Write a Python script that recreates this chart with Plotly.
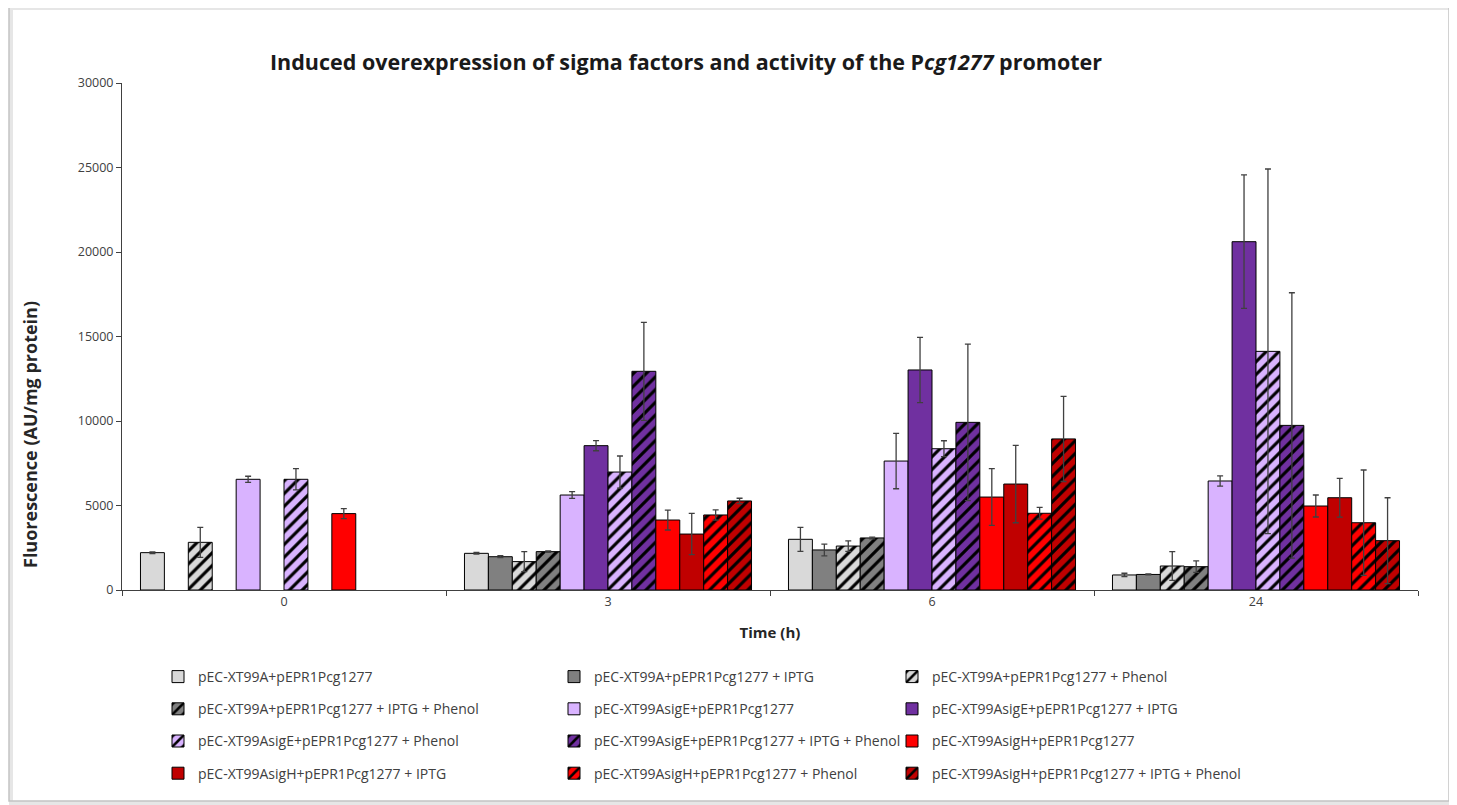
import plotly.graph_objects as go

times = ["0", "3", "6", "24"]

names = [
    "pEC-XT99A+pEPR1Pcg1277",
    "pEC-XT99A+pEPR1Pcg1277 + IPTG",
    "pEC-XT99A+pEPR1Pcg1277 + Phenol",
    "pEC-XT99A+pEPR1Pcg1277 + IPTG + Phenol",
    "pEC-XT99AsigE+pEPR1Pcg1277",
    "pEC-XT99AsigE+pEPR1Pcg1277 + IPTG",
    "pEC-XT99AsigE+pEPR1Pcg1277 + Phenol",
    "pEC-XT99AsigE+pEPR1Pcg1277 + IPTG + Phenol",
    "pEC-XT99AsigH+pEPR1Pcg1277",
    "pEC-XT99AsigH+pEPR1Pcg1277 + IPTG",
    "pEC-XT99AsigH+pEPR1Pcg1277 + Phenol",
    "pEC-XT99AsigH+pEPR1Pcg1277 + IPTG + Phenol",
]

a_ctrl = [2210, 2170, 3000, 890]
a_iptg = [None, 1970, 2370, 920]
a_phen = [2820, 1680, 2600, 1420]
a_both = [None, 2270, 3080, 1380]
e_ctrl = [6550, 5620, 7630, 6450]
e_iptg = [None, 8540, 13020, 20610]
e_phen = [6550, 6980, 8360, 14120]
e_both = [None, 12940, 9920, 9740]
h_ctrl = [4520, 4140, 5500, 4970]
h_iptg = [None, 3310, 6270, 5460]
h_phen = [None, 4440, 4540, 3980]
h_both = [None, 5270, 8940, 2920]

err_a_ctrl = [50, 50, 710, 100]
err_a_iptg = [0, 60, 350, 30]
err_a_phen = [890, 590, 310, 850]
err_a_both = [0, 40, 50, 340]
err_e_ctrl = [180, 200, 1640, 300]
err_e_iptg = [0, 300, 1930, 3950]
err_e_phen = [630, 950, 470, 10790]
err_e_both = [0, 2900, 4630, 7850]
err_h_ctrl = [300, 590, 1680, 650]
err_h_iptg = [0, 1220, 2290, 1150]
err_h_phen = [0, 300, 350, 3120]
err_h_both = [0, 160, 2520, 2540]

values = [a_ctrl, a_iptg, a_phen, a_both, e_ctrl, e_iptg, e_phen, e_both,
          h_ctrl, h_iptg, h_phen, h_both]
errors = [err_a_ctrl, err_a_iptg, err_a_phen, err_a_both, err_e_ctrl, err_e_iptg,
          err_e_phen, err_e_both, err_h_ctrl, err_h_iptg, err_h_phen, err_h_both]

colors = ["#D9D9D9", "#808080", "#D9D9D9", "#808080",
          "#D9B3FF", "#7030A0", "#D9B3FF", "#7030A0",
          "#FF0000", "#C00000", "#FF0000", "#C00000"]
hatched = [False, False, True, True] * 3

# page offset from the default body margin
OFF = 8
W, H = 1457 - OFF, 805 - OFF
# plot area in page pixels
L, R, T, B = 122, 1418, 83, 590
PW, PH = R - L, B - T


def px_x(p):
    return (p - L) / PW


def px_y(p):
    return (B - p) / PH


fig = go.Figure()
legend_ids = ["legend", "legend2", "legend3"]
for i, (nm, v, e, c, h) in enumerate(zip(names, values, errors, colors, hatched)):
    pattern = dict(shape="/", fgcolor="black", bgcolor=c, size=9, solidity=0.35,
                   fillmode="replace") if h else dict(shape="")
    fig.add_trace(go.Bar(
        x=times, y=v, name=nm,
        marker=dict(color=c, line=dict(color="black", width=1), pattern=pattern),
        error_y=dict(type="data", array=e, visible=True, color="#404040",
                     thickness=1.3, width=3),
        legend=legend_ids[i % 3],
        legendgroup=f"g{i}",
    ))

legend_common = dict(
    orientation="v", yanchor="top", xanchor="left",
    font=dict(family="Open Sans", size=14, color="#404040"),
    tracegroupgap=11, itemwidth=30, bgcolor="rgba(0,0,0,0)",
)
col_x = [158, 554, 892]
legend_top = 661
layout_legends = {}
for lid, cx in zip(legend_ids, col_x):
    layout_legends[lid] = dict(legend_common, x=px_x(cx), y=px_y(legend_top))

fig.update_layout(
    width=W, height=H,
    margin=dict(l=L - OFF, r=W - (R - OFF), t=T - OFF, b=H - (B - OFF)),
    paper_bgcolor="white", plot_bgcolor="white",
    barmode="group", bargap=0.114, bargroupgap=0,
    font=dict(family="Open Sans", color="#404040"),
    title=dict(
        text="<b>Induced overexpression of sigma factors and activity of the P<i>cg1277</i> promoter</b>",
        x=px_x(686), xref="paper", xanchor="center",
        y=1 - (62 - OFF) / H, yref="container", yanchor="middle",
        font=dict(family="Open Sans", size=21.5, color="#1a1a1a"),
    ),
    xaxis=dict(
        type="category", categoryorder="array", categoryarray=times,
        showline=True, linecolor="#404040", linewidth=1,
        ticks="outside", tickson="boundaries", ticklen=5, tickcolor="#404040",
        tickfont=dict(size=12.5, color="#404040"),
        title=dict(text="<b>Time (h)</b>", font=dict(family="Open Sans", size=15, color="#262626"),
                   standoff=18),
        showgrid=False,
    ),
    yaxis=dict(
        range=[0, 30000], tick0=0, dtick=5000, tickformat="d",
        showline=True, linecolor="#404040", linewidth=1,
        ticks="outside", ticklen=5, tickcolor="#404040",
        tickfont=dict(size=12.5, color="#404040"),
        showgrid=False, zeroline=False,
    ),
    showlegend=True,
    **layout_legends,
)

fig.add_annotation(
    text="<b>Fluorescence (AU/mg protein)</b>", textangle=-90,
    xref="paper", yref="paper", x=px_x(30), y=px_y(435),
    xanchor="center", yanchor="middle", showarrow=False,
    font=dict(family="Open Sans", size=18, color="#262626"),
)

# screenshot-like frame
fig.add_shape(type="rect", xref="paper", yref="paper",
              x0=px_x(11), x1=px_x(1452), y0=px_y(803), y1=px_y(8),
              line=dict(color="#E6E6E6", width=4), layer="below")
fig.add_shape(type="rect", xref="paper", yref="paper",
              x0=px_x(9), x1=px_x(1449), y0=px_y(801), y1=px_y(6),
              line=dict(color="#C4C4C4", width=1.5), layer="below")

fig.write_html("out.html")
